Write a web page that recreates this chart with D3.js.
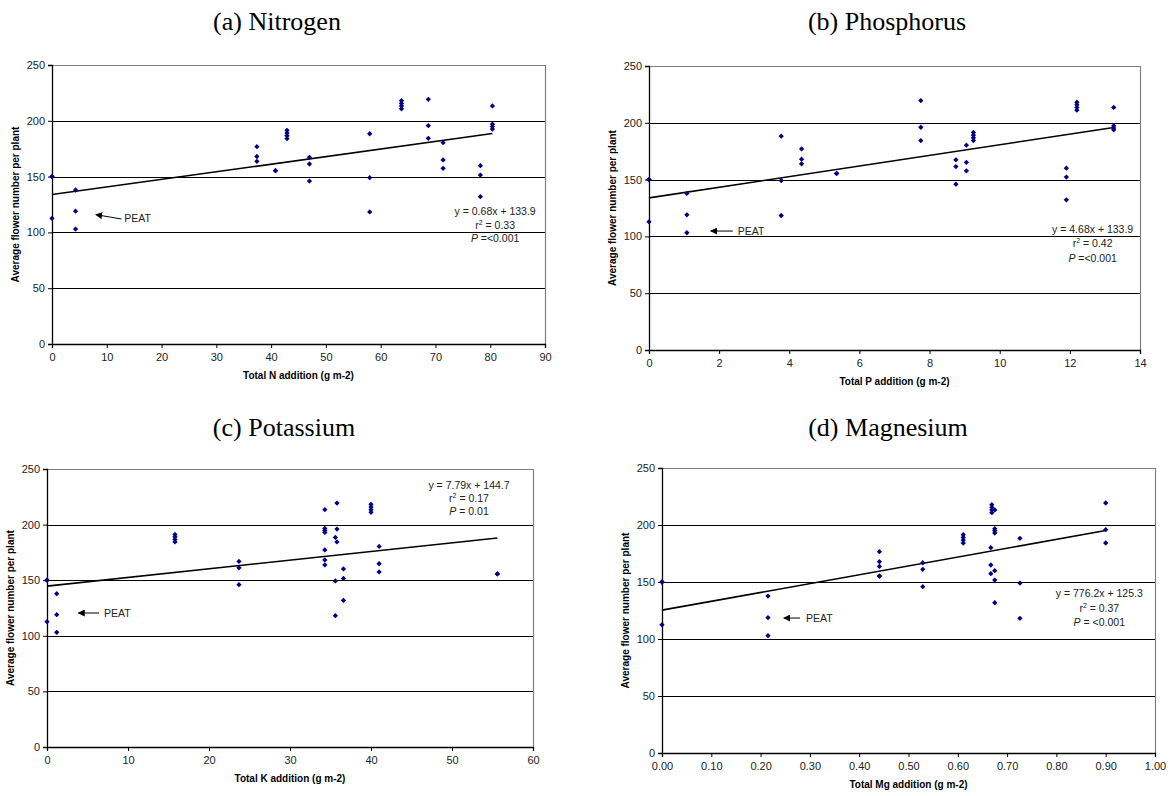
<!DOCTYPE html>
<html>
<head>
<meta charset="utf-8">
<script src="https://cdn.jsdelivr.net/npm/d3@7"></script>
<style>
  body { margin: 0; background: #fff; }
  svg text { font-family: Arial, "Liberation Sans", sans-serif; }
</style>
</head>
<body>
<script>
'use strict';

// values (flower number vs total nutrient addition)
const nitrogenX = [0, 0, 0, 4.3, 4.3, 4.3, 37.4, 37.4, 37.4, 40.8, 40.8,
  42.9, 42.9, 42.9, 42.9, 47, 47, 47, 58, 58, 58, 63.8, 63.8, 63.8, 63.8,
  68.7, 68.7, 68.7, 71.4, 71.4, 71.4, 78.2, 78.2, 78.2, 80.4, 80.4, 80.4, 80.4];
const nitrogenY = [150, 150, 112.6, 138, 119, 103, 176.8, 168, 163.7, 155.3, 155.3,
  191.5, 189, 186.6, 184, 167.3, 161.3, 146, 188.4, 149, 118.3, 218, 215.6, 213.3, 210.8,
  219.2, 195.6, 184.3, 180.4, 164.9, 157.4, 159.8, 151.4, 132, 213.3, 196.9, 194.8, 192.6];

const phosphorusX = [0, 0, 0, 1.08, 1.08, 1.08, 3.77, 3.77, 3.77, 4.35, 4.35, 4.35,
  5.35, 5.35, 7.75, 7.75, 7.75, 8.75, 8.75, 8.75, 9.05, 9.05, 9.05, 9.25, 9.25, 9.25, 9.25,
  11.9, 11.9, 11.9, 12.2, 12.2, 12.2, 12.2, 13.25, 13.25, 13.25, 13.25];
const phosphorusY = [150, 150, 112.8, 137.8, 119, 103.2, 188.2, 149.2, 118.4, 177, 168, 163.9,
  155.4, 155.4, 219.6, 196.1, 184.4, 167.4, 161.5, 146, 180.3, 165.1, 157.7, 191.5, 189.1, 186.8, 184.4,
  160.1, 152.2, 132.2, 218.1, 215.8, 213.5, 211.1, 213.5, 197.3, 195.5, 193.8];

const potassiumX = [0, 0, 0, 1.2, 1.2, 1.2, 15.8, 15.8, 15.8, 15.8, 23.7, 23.7, 23.7,
  34.3, 34.3, 34.3, 34.3, 34.3, 34.3, 34.3, 35.6, 35.6, 35.6, 35.8, 35.8, 35.8,
  36.6, 36.6, 36.6, 40, 40, 40, 40, 41, 41, 41, 55.6, 55.6];
const potassiumY = [150, 150, 112.7, 137.9, 119, 103.1, 191.2, 189.1, 186.7, 184.4, 166.9, 161.2, 146,
  213.4, 196.6, 194.8, 193, 177.2, 168.2, 163.7, 188.5, 149.3, 118.1, 219.4, 196, 184.4,
  160.1, 151.6, 131.8, 218.2, 215.8, 213.4, 211, 180.4, 164.8, 157.4, 155.6, 155.6];

const magnesiumX = [0, 0, 0, 0.215, 0.215, 0.215, 0.441, 0.441, 0.441, 0.441, 0.441,
  0.529, 0.529, 0.529, 0.611, 0.611, 0.611, 0.611, 0.667, 0.667, 0.667,
  0.669, 0.669, 0.669, 0.669, 0.675, 0.675, 0.675, 0.675, 0.675, 0.675, 0.675,
  0.726, 0.726, 0.726, 0.9, 0.9, 0.9];
const magnesiumY = [150, 150, 112.5, 137.7, 118.7, 102.9, 176.6, 167.8, 163.7, 155.2, 155.2,
  166.9, 161.1, 145.9, 191.5, 189.1, 186.8, 184.2, 180.1, 164.9, 157.3,
  217.8, 215.5, 213.2, 210.8, 213.2, 196.8, 195, 193, 159.9, 151.7, 131.8,
  188.3, 149.1, 118.1, 219.3, 195.9, 184.2];

const yTicks = [0, 50, 100, 150, 200, 250];
const nTicks = [0, 10, 20, 30, 40, 50, 60, 70, 80, 90];
const pTicks = [0, 2, 4, 6, 8, 10, 12, 14];
const kTicks = [0, 10, 20, 30, 40, 50, 60];
const mgTicks = [0, 0.1, 0.2, 0.3, 0.4, 0.5, 0.6, 0.7, 0.8, 0.9, 1.0];

const panelTitles = ["(a) Nitrogen", "(b) Phosphorus", "(c) Potassium", "(d) Magnesium"];
const xLabels = ["Total N addition (g m-2)", "Total P addition (g m-2)",
  "Total K addition (g m-2)", "Total Mg addition (g m-2)"];
const yLabel = "Average flower number per plant";

// fitted lines as drawn, and the printed equations
const fitSlopes = [0.68, 4.68, 0.779, 77.62];
const fitIntercepts = [133.9, 133.9, 144.7, 125.3];
const fitEnds = [80.4, 13.25, 55.6, 0.9];
const eqTexts = ["y = 0.68x + 133.9", "y = 4.68x + 133.9", "y = 7.79x + 144.7", "y = 776.2x + 125.3"];
const r2Texts = [" = 0.33", " = 0.42", " = 0.17", " = 0.37"];
const pTexts = [" =<0.001", " =<0.001", " = 0.01", " = <0.001"];

(function() {

  // where each panel sits on the page, plus annotation spots (in data units)
  let layout = [
    { left: 52, top: 65, right: 545, bottom: 344, titleX: 277, titleY: 30, fmt: d3.format("d"),
      eq: [80.9, 119.2, 13.7], peat: { tip: [8.0, 115.9], tail: [12.7, 112], text: [13.2, 113.2] } },
    { left: 649, top: 66, right: 1140, bottom: 350, titleX: 887, titleY: 30, fmt: d3.format("d"),
      eq: [12.65, 106.7, 14.5], peat: { tip: [1.76, 104.7], tail: [2.39, 104.7], text: [2.53, 104.7] } },
    { left: 47, top: 469, right: 533, bottom: 747, titleX: 284, titleY: 436, fmt: d3.format("d"),
      eq: [52.1, 235.3, 13], peat: { tip: [3.88, 120.5], tail: [6.42, 120.5], text: [7.04, 120.5] } },
    { left: 662, top: 468, right: 1155, bottom: 753, titleX: 888, titleY: 436, fmt: d3.format(".2f"),
      eq: [0.887, 140, 14.2], peat: { tip: [0.247, 118.4], tail: [0.28, 118.4], text: [0.292, 118.4] } }
  ];

  let xs = [nitrogenX, phosphorusX, potassiumX, magnesiumX];
  let ys = [nitrogenY, phosphorusY, potassiumY, magnesiumY];
  let xTickSets = [nTicks, pTicks, kTicks, mgTicks];

  let svg = "";

  window.onload = function() {
    svg = d3.select('body')
      .append('svg')
      .attr('width', 1175)
      .attr('height', 796);

    svg.append('defs').append('marker')
      .attr('id', 'arrow')
      .attr('viewBox', '0 0 10 10')
      .attr('refX', 9).attr('refY', 5)
      .attr('markerWidth', 7).attr('markerHeight', 7)
      .attr('markerUnits', 'userSpaceOnUse')
      .attr('orient', 'auto')
      .append('path')
      .attr('d', 'M0,0L10,5L0,10z')
      .attr('fill', '#000');

    for (let i = 0; i < 4; i++) {
      makePanel(i);
    }
  }

  function makePanel(i) {
    let box = layout[i];
    let ticks = xTickSets[i];
    let g = svg.append('g');

    let xScale = d3.scaleLinear()
      .domain([ticks[0], ticks[ticks.length - 1]])
      .range([box.left, box.right]);
    let yScale = d3.scaleLinear()
      .domain([0, 250])
      .range([box.bottom, box.top]);

    // gridlines
    g.selectAll('.grid')
      .data(yTicks.slice(1, -1))
      .enter()
      .append('line')
        .attr('x1', box.left).attr('x2', box.right)
        .attr('y1', (d) => Math.round(yScale(d)) + 0.5)
        .attr('y2', (d) => Math.round(yScale(d)) + 0.5)
        .attr('stroke', '#000')
        .attr('stroke-width', 1);

    // plot area border (top + right, grey)
    g.append('path')
      .attr('d', 'M' + box.left + ',' + (Math.round(box.top) + 0.5) +
        'H' + (Math.round(box.right) + 0.5) + 'V' + box.bottom)
      .attr('fill', 'none')
      .attr('stroke', '#808080')
      .attr('stroke-width', 1.2);

    // axes
    let xAxis = d3.axisBottom(xScale).tickValues(ticks).tickFormat(box.fmt).tickSize(4).tickPadding(5);
    let gx = g.append('g')
      .attr('transform', 'translate(0,' + box.bottom + ')')
      .call(xAxis);
    let yAxis = d3.axisLeft(yScale).tickValues(yTicks).tickSize(4).tickPadding(3);
    let gy = g.append('g')
      .attr('transform', 'translate(' + box.left + ',0)')
      .call(yAxis);

    [gx, gy].forEach((a) => {
      a.select('.domain').attr('stroke', '#000').attr('stroke-width', 1.3);
      a.selectAll('.tick line').attr('stroke', '#000');
      a.selectAll('.tick text')
        .attr('fill', '#222')
        .style('font-size', '11px')
        .style('font-family', 'Arial, "Liberation Sans", sans-serif');
    });

    // regression line
    g.append('line')
      .attr('x1', xScale(0))
      .attr('y1', yScale(fitIntercepts[i]))
      .attr('x2', xScale(fitEnds[i]))
      .attr('y2', yScale(fitIntercepts[i] + fitSlopes[i] * fitEnds[i]))
      .attr('stroke', '#000')
      .attr('stroke-width', 1.6);

    // points as little diamonds
    let pts = xs[i].map((x, j) => ({ x: x, y: ys[i][j] }));
    g.selectAll('.dot')
      .data(pts)
      .enter()
      .append('path')
        .attr('d', d3.symbol(d3.symbolSquare, 14))
        .attr('transform', (d) => 'translate(' + xScale(d.x) + ',' + yScale(d.y) + ') rotate(45)')
        .attr('fill', '#000080');

    // title
    svg.append('text')
      .attr('x', box.titleX)
      .attr('y', box.titleY)
      .attr('text-anchor', 'middle')
      .style('font-family', '"Liberation Serif", "Times New Roman", serif')
      .style('font-size', '26px')
      .text(panelTitles[i]);

    // axis labels
    g.append('text')
      .attr('x', (box.left + box.right) / 2)
      .attr('y', box.bottom + 35)
      .attr('text-anchor', 'middle')
      .style('font-size', '10px')
      .style('font-weight', 'bold')
      .text(xLabels[i]);

    g.append('text')
      .attr('transform', 'translate(' + (box.left - 33) + ',' + ((box.top + box.bottom) / 2) + ')rotate(-90)')
      .attr('text-anchor', 'middle')
      .style('font-size', '10px')
      .style('font-weight', 'bold')
      .text(yLabel);

    // equation block
    let ex = xScale(box.eq[0]);
    let ey = yScale(box.eq[1]) + 4;
    let step = box.eq[2];
    g.append('text')
      .attr('x', ex).attr('y', ey)
      .attr('text-anchor', 'middle')
      .style('font-size', '10.5px')
      .attr('fill', '#222')
      .text(eqTexts[i]);

    let r2 = g.append('text')
      .attr('x', ex).attr('y', ey + step)
      .attr('text-anchor', 'middle')
      .style('font-size', '10.5px')
      .attr('fill', '#222');
    r2.append('tspan').text('r');
    r2.append('tspan').attr('dy', -4).style('font-size', '7px').text('2');
    r2.append('tspan').attr('dy', 4).text(r2Texts[i]);

    let pt = g.append('text')
      .attr('x', ex).attr('y', ey + 2 * step)
      .attr('text-anchor', 'middle')
      .style('font-size', '10.5px')
      .attr('fill', '#222');
    pt.append('tspan').style('font-style', 'italic').text('P');
    pt.append('tspan').text(pTexts[i]);

    // PEAT arrow
    let peat = box.peat;
    g.append('line')
      .attr('x1', xScale(peat.tail[0])).attr('y1', yScale(peat.tail[1]))
      .attr('x2', xScale(peat.tip[0])).attr('y2', yScale(peat.tip[1]))
      .attr('stroke', '#000')
      .attr('stroke-width', 1)
      .attr('marker-end', 'url(#arrow)');
    g.append('text')
      .attr('x', xScale(peat.text[0]))
      .attr('y', yScale(peat.text[1]) + 4)
      .style('font-size', '10.5px')
      .attr('fill', '#222')
      .text('PEAT');
  }

})();
</script>
</body>
</html>
